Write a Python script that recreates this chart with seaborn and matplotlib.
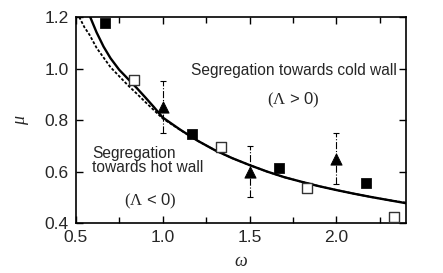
import numpy as np
import pandas as pd
import seaborn as sns
from matplotlib import pyplot as plt
from matplotlib.ticker import MultipleLocator

# theory curves
omega_solid = [0.58, 0.62, 0.66, 0.70, 0.75, 0.80, 0.85, 0.90, 0.95, 1.00, 1.10, 1.20,
               1.30, 1.40, 1.50, 1.60, 1.70, 1.80, 1.90, 2.00, 2.10, 2.20, 2.30, 2.40]
mu_solid = [1.205, 1.14, 1.085, 1.04, 0.995, 0.96, 0.925, 0.888, 0.85, 0.81, 0.763, 0.72,
            0.683, 0.652, 0.625, 0.60, 0.578, 0.56, 0.543, 0.528, 0.514, 0.501, 0.489, 0.477]
omega_dash = [0.52, 0.55, 0.58, 0.62, 0.65, 0.70, 0.75, 0.80, 0.85, 0.90, 0.95, 1.00, 1.10, 1.20,
              1.30, 1.40, 1.50, 1.60, 1.70, 1.80, 1.90, 2.00, 2.10, 2.20, 2.30, 2.40]
mu_dash = [1.20, 1.16, 1.13, 1.08, 1.052, 1.005, 0.97, 0.935, 0.903, 0.87, 0.838, 0.806, 0.762, 0.72,
           0.683, 0.652, 0.625, 0.60, 0.578, 0.56, 0.543, 0.528, 0.514, 0.501, 0.489, 0.479]

# simulation points
omega_filled = [0.667, 1.167, 1.667, 2.167]
mu_filled = [1.175, 0.745, 0.615, 0.555]
omega_open = [0.833, 1.333, 1.833, 2.333]
mu_open = [0.955, 0.695, 0.535, 0.425]

# experiments
omega_exp = [1.0, 1.5, 2.0]
mu_exp = [0.85, 0.60, 0.65]
mu_err = [0.10, 0.10, 0.10]

sns.set_style("ticks")
plt.rcParams['font.family'] = ['Liberation Sans', 'DejaVu Sans']
plt.rcParams['mathtext.fontset'] = 'custom'
plt.rcParams['mathtext.rm'] = 'Liberation Serif'
plt.rcParams['mathtext.it'] = 'Liberation Serif:italic'

fig = plt.figure(figsize=(4.43, 2.73), dpi=100)
ax = fig.add_axes([0.171, 0.183, 0.7455, 0.7547])

sns.lineplot(x=omega_dash, y=mu_dash, ax=ax, color='black', lw=1.3, linestyle=(0, (1.6, 1.0)),
             sort=False, estimator=None)
sns.lineplot(x=omega_solid, y=mu_solid, ax=ax, color='black', lw=1.7, sort=False, estimator=None)

eb = ax.errorbar(omega_exp, mu_exp, yerr=mu_err, fmt='none', ecolor='black', elinewidth=0.8,
                 capsize=2.5, capthick=0.8)
eb[2][0].set_linestyle('-.')
sns.scatterplot(x=omega_exp, y=mu_exp, ax=ax, marker='^', s=65, color='black', edgecolor='black', zorder=5)
sns.scatterplot(x=omega_filled, y=mu_filled, ax=ax, marker='s', s=45, color='black', edgecolor='black', zorder=5)
sns.scatterplot(x=omega_open, y=mu_open, ax=ax, marker='s', s=45, facecolor='white', edgecolor='#333333',
                linewidth=1.0, zorder=5)

ax.set_xlim(0.5, 2.4)
ax.set_ylim(0.4, 1.2)
ax.xaxis.set_major_locator(MultipleLocator(0.5))
ax.xaxis.set_minor_locator(MultipleLocator(0.25))
ax.yaxis.set_major_locator(MultipleLocator(0.2))
ax.xaxis.set_major_formatter(plt.FormatStrFormatter('%.1f'))
ax.yaxis.set_major_formatter(plt.FormatStrFormatter('%.1f'))
ax.tick_params(which='both', direction='in', top=True, right=True, labelsize=12.5, color='black', width=1.0)
ax.tick_params(which='major', length=5, pad=5)
ax.tick_params(which='minor', length=4)
for s in ax.spines.values():
    s.set_linewidth(1.2)
    s.set_color('black')

ax.set_xlabel('ω', family='Liberation Serif', style='italic', fontsize=13, labelpad=6)
ax.set_ylabel('μ', family='Liberation Serif', style='italic', fontsize=13, labelpad=11)

ax.text(1.754, 0.994, 'Segregation towards cold wall', fontsize=11.2, ha='center', va='center')
ax.text(1.754, 0.878, r'$(\mathit{\Lambda}$ > 0$)$', fontsize=12, ha='center', va='center')
ax.text(0.596, 0.642, 'Segregation\ntowards hot wall', fontsize=11.2, ha='left', va='center', linespacing=0.95)
ax.text(0.929, 0.483, r'$(\mathit{\Lambda}$ < 0$)$', fontsize=12, ha='center', va='center')

fig.savefig('out.png', dpi=100)
